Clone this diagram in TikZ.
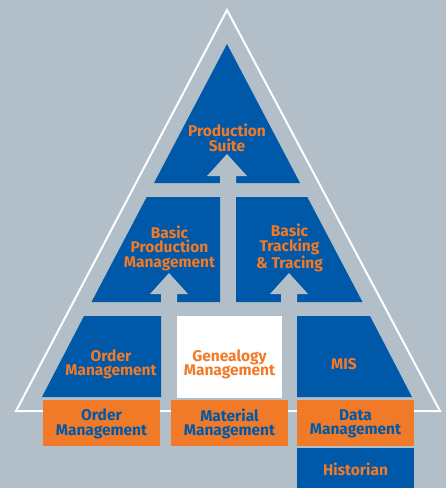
\documentclass[tikz,border=0pt]{standalone}
\usepackage{fontspec}
\setmainfont{Fira Sans}
\definecolor{bggrey}{RGB}{178,191,200}
\definecolor{mesblue}{RGB}{0,88,168}
\definecolor{mesorange}{RGB}{240,122,40}
\tikzset{
  lbl/.style={font=\fontsize{15.5}{14.5}\selectfont\bfseries, align=center, inner sep=0pt},
  onblue/.style={lbl, text=mesorange},
  onorange/.style={lbl, text=mesblue},
}
\begin{document}
\begin{tikzpicture}[x=1pt, y=-1pt]%
\fill[bggrey] (0, 0) rectangle (446, 488);%
\draw[white, line width=2pt] (227, 10) -- (16, 411) -- (440, 411) -- cycle;%
\fill[mesblue] (227, 44) -- (154, 183) -- (300, 183) -- cycle;%
\fill[mesblue] (146.7, 197) -- (220, 197) -- (220, 302) -- (91.5, 302) -- cycle;%
\fill[mesblue] (236, 197) -- (307.3, 197) -- (362.5, 302) -- (236, 302) -- cycle;%
\fill[mesblue] (84, 316) -- (161, 316) -- (161, 397) -- (42, 397) -- cycle;%
\fill[white] (177, 316) rectangle (282, 398);%
\fill[mesblue] (297, 316) -- (370, 316) -- (412, 397) -- (297, 397) -- cycle;%
\fill[mesorange] (43, 400) rectangle (160, 446);%
\fill[mesorange] (171, 400) rectangle (288, 446);%
\fill[mesorange] (297, 400) rectangle (414, 446);%
\fill[mesblue] (297, 448) rectangle (414, 488);%
\fill[bggrey] (227, 154) -- (247, 176) -- (236, 176) -- (236, 184) -- (220, 184) -- (220, 176) -- (207, 176) -- cycle;%
\fill[bggrey] (169, 273) -- (188, 294) -- (177, 294) -- (177, 303) -- (161, 303) -- (161, 294) -- (150, 294) -- cycle;%
\fill[bggrey] (289, 273) -- (308, 294) -- (297, 294) -- (297, 303) -- (281, 303) -- (281, 294) -- (270, 294) -- cycle;%
\node[onblue] (prodsuite) at (227, 138) {Production\\Suite};%
\node[onblue] (basicprod) at (169.5, 248) {Basic\\Production\\Management};%
\node[onblue] (basictrack) at (289.5, 248) {Basic\\Tracking\\\& Tracing};%
\node[onblue] (orderblue) at (111, 364.5) {Order\\Management};%
\node[onblue] (genealogy) at (229.5, 364.5) {Genealogy\\Management};%
\node[onblue] (mis) at (344, 364) {MIS};%
\node[onorange] (orderorange) at (101.5, 424) {Order\\Management};%
\node[onorange] (material) at (229.5, 424) {Material\\Management};%
\node[onorange] (datamgmt) at (355.5, 424) {Data\\Management};%
\node[onblue] (historian) at (355.5, 469) {Historian};%
\end{tikzpicture}
\end{document}
